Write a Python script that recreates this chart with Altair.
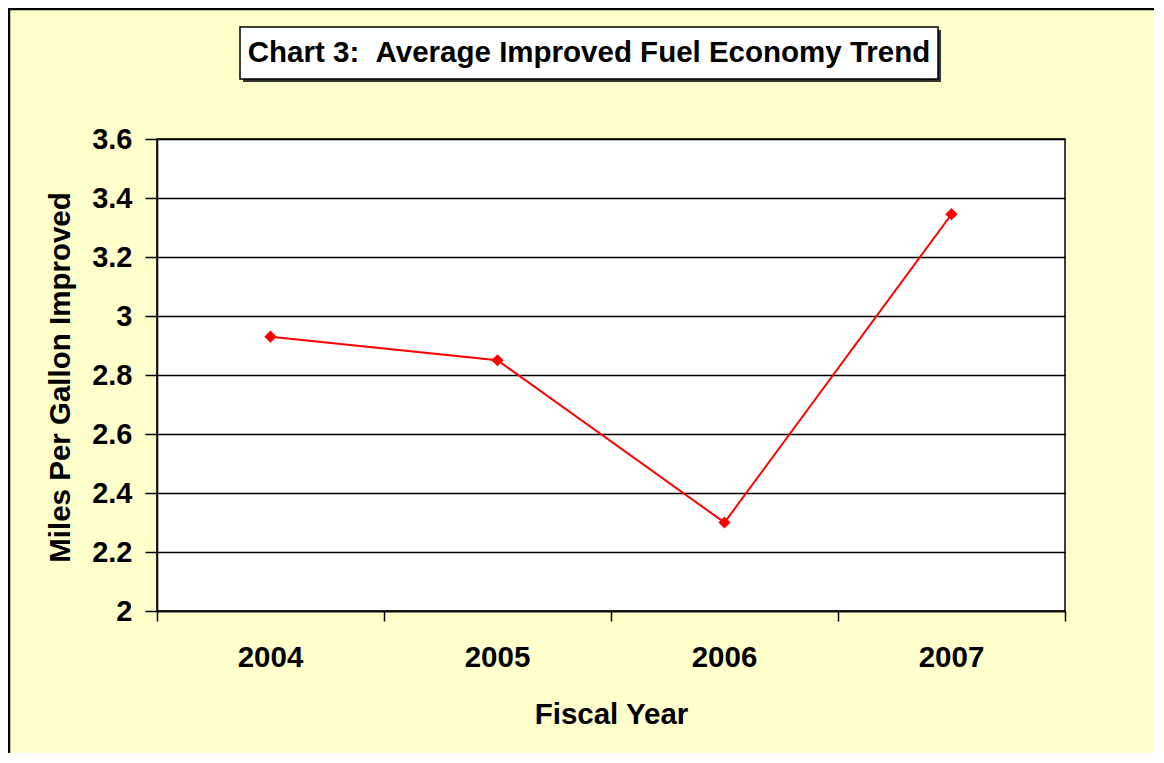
import altair as alt
import pandas as pd

# ---- data ----
years = [2004, 2005, 2006, 2007]
mpg = [2.93, 2.85, 2.30, 3.345]
y_ticks = [2.0, 2.2, 2.4, 2.6, 2.8, 3.0, 3.2, 3.4, 3.6]
x_bounds = [2003.5, 2004.5, 2005.5, 2006.5, 2007.5]
title_text = "Chart 3: \u00a0Average Improved Fuel Economy Trend"
x_title = "Fiscal Year"
y_title = "Miles Per Gallon Improved"

df = pd.DataFrame({"year": years, "mpg": mpg})
one = pd.DataFrame({"t": [title_text]})

W, H = 908, 472
FONT = "Liberation Sans, Arial, sans-serif"
FS = 29.5
FS_TITLE = 29.5

x_scale = alt.Scale(domain=[x_bounds[0], x_bounds[-1]], nice=False, zero=False)
y_scale = alt.Scale(domain=[y_ticks[0], y_ticks[-1]], nice=False, zero=False)

x_axis = alt.Axis(
    values=x_bounds, labels=False, tickSize=10, tickColor="black", tickWidth=1.5,
    domainColor="black", domainWidth=1.5, grid=False,
    title=x_title, titleFont=FONT, titleFontSize=FS, titleFontWeight="bold",
    titleColor="black", titleY=103, titleBaseline="middle",
)
y_axis = alt.Axis(
    values=y_ticks, format="~g", tickSize=12, tickColor="black", tickWidth=1.5,
    domainColor="black", domainWidth=1.5,
    grid=True, gridColor="black", gridWidth=1.5, gridOpacity=1,
    labelFont=FONT, labelFontSize=29, labelFontWeight="bold", labelColor="black",
    labelPadding=13,
    title=y_title, titleFont=FONT, titleFontSize=FS, titleFontWeight="bold",
    titleColor="black", titleX=-97, titleY=238, titleBaseline="middle", titleAngle=270,
)

base = alt.Chart(df)

line = base.mark_line(color="#FF0000", strokeWidth=2).encode(
    x=alt.X("year:Q", scale=x_scale, axis=x_axis),
    y=alt.Y("mpg:Q", scale=y_scale, axis=y_axis),
)
pts = base.mark_point(shape="diamond", filled=True, size=150, color="#FF0000", opacity=1).encode(
    x="year:Q", y="mpg:Q"
)
year_labels = base.mark_text(
    font=FONT, fontSize=FS, fontWeight="bold", color="black", baseline="middle", align="center"
).encode(x="year:Q", y=alt.value(H + 47), text="year:N")

deco = alt.Chart(one)
shadow = deco.mark_rect(fill="#333333").encode(
    x=alt.value(86), x2=alt.value(784), y=alt.value(-109), y2=alt.value(-57)
)
box = deco.mark_rect(fill="white", stroke="black", strokeWidth=1.5).encode(
    x=alt.value(83), x2=alt.value(781), y=alt.value(-112), y2=alt.value(-60)
)
title_mark = deco.mark_text(
    font=FONT, fontSize=FS_TITLE, fontWeight="bold", color="black", align="center", baseline="middle"
).encode(x=alt.value(432), y=alt.value(-86), text="t:N")

border_left = deco.mark_rule(color="black", strokeWidth=2.5).encode(
    x=alt.value(-148), y=alt.value(-131), y2=alt.value(H + 150)
)
border_top = deco.mark_rule(color="black", strokeWidth=2.5).encode(
    x=alt.value(-149), x2=alt.value(W + 100), y=alt.value(-130)
)

chart = alt.layer(
    shadow, box, title_mark, line, pts, year_labels, border_left, border_top
).properties(
    width=W, height=H,
    autosize=alt.AutoSizeParams(type="none"),
    padding={"left": 149, "top": 131, "right": 89, "bottom": 142},
).configure(background="#FFFFCC").configure_view(stroke="black", strokeWidth=1.5, fill="white")

chart.save("out.html", embed_options={"renderer": "svg", "actions": False})
